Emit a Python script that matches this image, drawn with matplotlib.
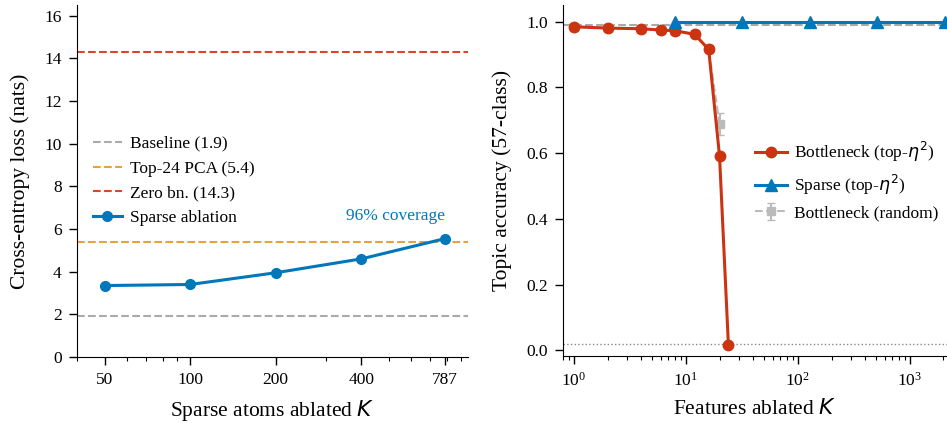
import matplotlib
matplotlib.use("Agg")
import matplotlib.pyplot as plt
from matplotlib.ticker import FixedLocator, FixedFormatter, NullFormatter

plt.rcParams["font.family"] = ["Liberation Serif", "DejaVu Serif"]
plt.rcParams["mathtext.fontset"] = "dejavusans"

# left panel: sparse ablation
sparse_k = [50, 100, 200, 400, 787]
sparse_ce = [3.35, 3.40, 3.95, 4.60, 5.55]
baseline_ce = 1.9
pca_ce = 5.4
zero_ce = 14.3

# right panel: topic accuracy
bn_k = [1, 2, 4, 6, 8, 12, 16, 20, 24]
bn_acc = [0.984, 0.980, 0.978, 0.974, 0.972, 0.961, 0.915, 0.591, 0.017]
sp_k = [8, 32, 128, 512, 2048]
sp_acc = [0.998, 0.998, 0.998, 0.998, 0.998]
rnd_k = [1, 2, 4, 6, 8, 12, 16, 20]
rnd_acc = [0.984, 0.980, 0.978, 0.974, 0.972, 0.961, 0.915, 0.689]
rnd_err = [0.001, 0.001, 0.001, 0.002, 0.002, 0.003, 0.006, 0.034]
full_acc = 0.990
chance = 1 / 57

BLUE = "#0077BB"
RED = "#CC3311"
GRAY = "#AAAAAA"
ORANGE = "#E9A23B"
REDLINE = "#D9472B"

fig = plt.figure(figsize=(9.47, 4.23), dpi=100)
ax1 = fig.add_axes([0.0813, 0.156, 0.413, 0.832])
ax2 = fig.add_axes([0.5945, 0.158, 0.4055, 0.830])

# --- left
ax1.axhline(baseline_ce, color=GRAY, ls="--", lw=1.5, label=f"Baseline ({baseline_ce})")
ax1.axhline(pca_ce, color=ORANGE, ls="--", lw=1.5, label=f"Top-24 PCA ({pca_ce})")
ax1.axhline(zero_ce, color=REDLINE, ls="--", lw=1.5, label=f"Zero bn. ({zero_ce})")
ax1.plot(sparse_k, sparse_ce, color=BLUE, marker="o", ms=7, lw=2.2, label="Sparse ablation")
ax1.set_xscale("log")
ax1.set_xlim(40, 950)
ax1.set_ylim(0, 16.5)
ax1.xaxis.set_major_locator(FixedLocator(sparse_k))
ax1.xaxis.set_major_formatter(FixedFormatter([str(k) for k in sparse_k]))
ax1.xaxis.set_minor_formatter(NullFormatter())
ax1.set_yticks(range(0, 17, 2))
ax1.set_xlabel("Sparse atoms ablated $K$", fontsize=15.5)
ax1.set_ylabel("Cross-entropy loss (nats)", fontsize=15.5, labelpad=10)
ax1.text(787, 6.6, "96% coverage", color=BLUE, ha="right", va="center", fontsize=12.5)
ax1.legend(loc="center left", bbox_to_anchor=(0.0, 0.5), frameon=False, fontsize=12.5,
           handlelength=1.7, handletextpad=0.45)

# --- right
ax2.axhline(full_acc, color=GRAY, ls="--", lw=1.5)
ax2.axhline(chance, color="#888888", ls=":", lw=1.0)
h_rnd = ax2.errorbar(rnd_k, rnd_acc, yerr=rnd_err, color="#BBBBBB", ls="--", marker="s",
                     ms=6, lw=1.5, capsize=3, label="Bottleneck (random)", zorder=2)
h_bn, = ax2.plot(bn_k, bn_acc, color=RED, marker="o", ms=7.5, lw=2.2,
                 label=r"Bottleneck (top-$\eta^2$)", zorder=3)
h_sp, = ax2.plot(sp_k, sp_acc, color=BLUE, marker="^", ms=8, lw=2.2,
                 label=r"Sparse (top-$\eta^2$)", zorder=3)
ax2.set_xscale("log")
ax2.set_xlim(0.8, 2150)
ax2.set_ylim(-0.018, 1.05)
ax2.set_yticks([0.0, 0.2, 0.4, 0.6, 0.8, 1.0])
ax2.set_xlabel("Features ablated $K$", fontsize=15.5)
ax2.set_ylabel("Topic accuracy (57-class)", fontsize=15.5, labelpad=10)
ax2.legend([h_bn, h_sp, h_rnd], [h_bn.get_label(), h_sp.get_label(), "Bottleneck (random)"],
           loc="center left", bbox_to_anchor=(0.46, 0.5), frameon=False, fontsize=12.5,
           handlelength=1.8, handletextpad=0.45)

for ax in (ax1, ax2):
    ax.spines["top"].set_visible(False)
    ax.spines["right"].set_visible(False)
    ax.tick_params(axis="both", which="major", labelsize=12.5, length=6, width=1, pad=5)
    ax.tick_params(axis="both", which="minor", length=3, width=0.8)
    ax.xaxis.labelpad = 7

fig.savefig("out.png", dpi=100)
